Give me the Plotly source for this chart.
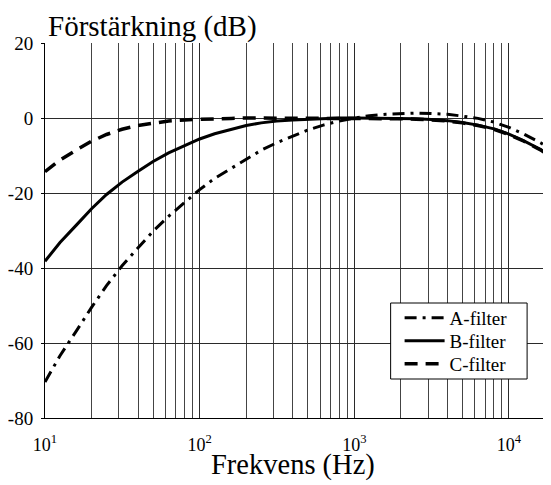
import plotly.graph_objects as go

freq = [10, 12.5, 16, 20, 25, 31.5, 40, 50, 63, 80, 100, 125, 160, 200, 250, 315,
        400, 500, 630, 800, 1000, 1250, 1600, 2000, 2500, 3150, 4000, 5000, 6300,
        8000, 10000, 12500, 16000, 20000]

a_filter = [-70.4, -63.4, -56.7, -50.5, -44.7, -39.4, -34.6, -30.2, -26.2, -22.5,
            -19.1, -16.1, -13.4, -10.9, -8.6, -6.6, -4.8, -3.2, -1.9, -0.8,
            0.0, 0.6, 1.0, 1.2, 1.3, 1.2, 1.0, 0.5, -0.1, -1.1,
            -2.5, -4.3, -6.6, -9.3]
b_filter = [-38.2, -33.2, -28.5, -24.2, -20.4, -17.1, -14.2, -11.6, -9.3, -7.4,
            -5.6, -4.2, -3.0, -2.0, -1.3, -0.8, -0.5, -0.3, -0.1, 0.0,
            0.0, 0.0, 0.0, -0.1, -0.2, -0.4, -0.7, -1.2, -1.9, -2.9,
            -4.3, -6.1, -8.4, -11.1]
c_filter = [-14.3, -11.2, -8.5, -6.2, -4.4, -3.0, -2.0, -1.3, -0.8, -0.5,
            -0.3, -0.2, -0.1, 0.0, 0.0, 0.0, 0.0, 0.0, 0.0, 0.0,
            0.0, -0.1, -0.1, -0.2, -0.3, -0.5, -0.8, -1.3, -2.0, -3.0,
            -4.4, -6.2, -8.5, -11.2]

x_major = [10, 100, 1000, 10000]
x_major_text = ["10<sup>1</sup>", "10<sup>2</sup>", "10<sup>3</sup>", "10<sup>4</sup>"]
x_minor = [m * d for d in (10, 100, 1000) for m in range(2, 10)]
y_ticks = [20, 0, -20, -40, -60, -80]
y_tick_text = ["20", "0", "-20", "-40", "-60", "-80"]

SERIF = "Times New Roman"
OFF = 8  # page body margin offset
W, H = 551 - OFF, 485 - OFF
L, R, T, B = 43 - OFF, 0, 43 - OFF, 67

fig = go.Figure()
fig.add_trace(go.Scatter(x=freq, y=a_filter, mode="lines", name="A-filter", legend="legend",
                         line=dict(color="black", width=3, dash="12px,6px,3px,6px")))
fig.add_trace(go.Scatter(x=freq, y=b_filter, mode="lines", name="B-filter", legend="legend2",
                         line=dict(color="black", width=3)))
fig.add_trace(go.Scatter(x=freq, y=c_filter, mode="lines", name="C-filter", legend="legend3",
                         line=dict(color="black", width=3.5, dash="13px,8px")))

def px_x(p):
    return (p - OFF - L) / (W - L - R)

def px_y(p):
    return (H - B - (p - OFF)) / (H - T - B)

# legend box
fig.add_shape(type="rect", xref="paper", yref="paper",
              x0=px_x(390), x1=px_x(527), y0=px_y(379), y1=px_y(303),
              line=dict(color="black", width=1), fillcolor="white", layer="above")

fig.add_annotation(text="Förstärkning (dB)", xref="paper", yref="paper",
                   x=px_x(44), y=px_y(26), xanchor="left", yanchor="middle",
                   showarrow=False, font=dict(family=SERIF, size=29, color="black"))
fig.add_annotation(text="Frekvens (Hz)", xref="paper", yref="paper",
                   x=px_x(292), y=px_y(465), xanchor="center", yanchor="middle",
                   showarrow=False, font=dict(family=SERIF, size=28.5, color="black"))

def leg(yc):
    return dict(x=px_x(399), y=px_y(yc), xanchor="left", yanchor="middle",
                bgcolor="rgba(0,0,0,0)", borderwidth=0,
                font=dict(family=SERIF, size=19, color="black"),
                itemwidth=40)

fig.update_layout(
    width=W, height=H,
    margin=dict(l=L, r=R, t=T, b=B),
    paper_bgcolor="white", plot_bgcolor="white",
    showlegend=True,
    legend=leg(318), legend2=leg(341), legend3=leg(364),
    font=dict(family=SERIF, color="black"),
)
fig.update_xaxes(type="log", range=[1, 4.2718],
                 tickvals=x_major, ticktext=x_major_text,
                 tickfont=dict(family=SERIF, size=18, color="black"),
                 ticklabelstandoff=10,
                 showgrid=True, gridcolor="#2a2a2a", gridwidth=1,
                 showline=True, linecolor="black", linewidth=1,
                 zeroline=False, ticks="",
                 minor=dict(tickvals=x_minor, showgrid=True, gridcolor="#444", gridwidth=1))
fig.update_yaxes(range=[-80, 20], tickvals=y_ticks, ticktext=y_tick_text,
                 tickfont=dict(family=SERIF, size=19, color="black"),
                 ticklabelstandoff=4,
                 showgrid=True, gridcolor="#2a2a2a", gridwidth=1,
                 showline=True, linecolor="black", linewidth=1,
                 zeroline=False, ticks="outside", ticklen=3, tickcolor="black")

fig.write_html("out.html")
